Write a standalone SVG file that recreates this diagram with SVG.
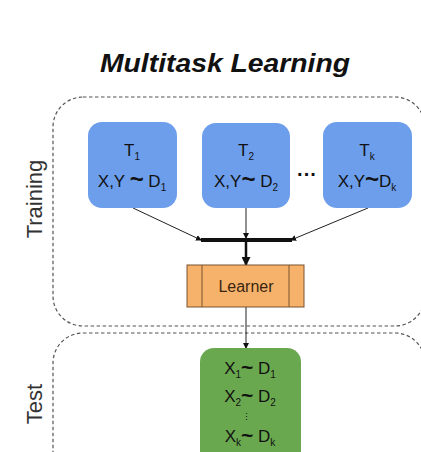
<svg xmlns="http://www.w3.org/2000/svg" width="421" height="452" viewBox="0 0 421 452">
<defs>
<style>
.t{font-family:"Liberation Sans",Arial,sans-serif;fill:#111;}
.box{fill:#6d9eeb;}
.dash{fill:none;stroke:#555;stroke-width:1.2;stroke-dasharray:3.5,2.5;}
.ln{stroke:#222;stroke-width:1;fill:none;}
.bx{font-size:17px;text-anchor:middle;}
.sb{font-size:10px;}
.tl{font-weight:bold;font-size:24px;}
.tg{font-weight:bold;font-size:21px;}
.lbl{font-family:"Liberation Sans",Arial,sans-serif;font-size:22px;fill:#333;text-anchor:middle;}
</style>
<marker id="ah" markerWidth="6" markerHeight="6" refX="5" refY="3" orient="auto" markerUnits="userSpaceOnUse">
<path d="M0,0 L6,3 L0,6 Z" fill="#111"/>
</marker>
<marker id="ahb" markerWidth="9" markerHeight="9" refX="8" refY="4.5" orient="auto" markerUnits="userSpaceOnUse">
<path d="M0,0 L9,4.5 L0,9 Z" fill="#111"/>
</marker>
</defs>
<rect width="421" height="452" fill="#fff"/>
<text class="t" x="225" y="72" font-size="26" font-weight="bold" font-style="italic" text-anchor="middle" textLength="250" lengthAdjust="spacingAndGlyphs">Multitask Learning</text>

<g id="training-region">
<rect class="dash" x="53" y="97" width="372" height="229" rx="30"/>
<text class="lbl" transform="translate(42,199) rotate(-90)">Training</text>
</g>
<g id="test-region">
<rect class="dash" x="53" y="333" width="372" height="200" rx="30"/>
<text class="lbl" transform="translate(42,404) rotate(-90)">Test</text>
</g>

<g id="connectors">
<line class="ln" x1="133" y1="208" x2="201" y2="240" marker-end="url(#ah)"/>
<line class="ln" x1="246" y1="208" x2="246" y2="238" marker-end="url(#ah)"/>
<line class="ln" x1="368" y1="208" x2="291" y2="240" marker-end="url(#ah)"/>
<line x1="201" y1="240" x2="292" y2="240" stroke="#111" stroke-width="4"/>
<line x1="246" y1="240" x2="246" y2="265" stroke="#111" stroke-width="2.5" marker-end="url(#ahb)"/>
<line class="ln" x1="246" y1="307" x2="246" y2="348" marker-end="url(#ah)"/>
</g>

<g id="t1">
<rect class="box" x="88" y="122" width="89" height="86" rx="14"/>
<text class="t bx" x="132" y="156">T<tspan class="sb" dy="4">1</tspan></text>
<text class="t bx" x="132" y="187">X,Y <tspan class="tl">~</tspan> D<tspan class="sb" dy="4">1</tspan></text>
</g>
<g id="t2">
<rect class="box" x="202" y="123" width="88" height="85" rx="14"/>
<text class="t bx" x="246" y="156">T<tspan class="sb" dy="4">2</tspan></text>
<text class="t bx" x="246" y="187">X,Y<tspan class="tl">~</tspan> D<tspan class="sb" dy="4">2</tspan></text>
</g>
<g id="ellipsis">
<text class="t" x="307" y="181" font-size="20" font-weight="bold" text-anchor="middle">···</text>
</g>
<g id="tk">
<rect class="box" x="323" y="122" width="89" height="86" rx="14"/>
<text class="t bx" x="367" y="156">T<tspan class="sb" dy="4">k</tspan></text>
<text class="t bx" x="367" y="187">X,Y<tspan class="tl">~</tspan>D<tspan class="sb" dy="4">k</tspan></text>
</g>

<g id="learner">
<rect x="187" y="265" width="117" height="42" fill="#f6b26b" stroke="#7a5230" stroke-width="1"/>
<line x1="202" y1="265" x2="202" y2="307" stroke="#7a5230" stroke-width="1"/>
<line x1="289" y1="265" x2="289" y2="307" stroke="#7a5230" stroke-width="1"/>
<text x="246" y="292" font-family="Liberation Sans, Arial, sans-serif" font-size="16" fill="#3a2510" text-anchor="middle">Learner</text>
</g>

<g id="test-data">
<rect x="200" y="348" width="101" height="120" rx="14" fill="#6aa84f"/>
<text class="t bx" x="250" y="374">X<tspan class="sb" dy="4">1</tspan><tspan class="tg" dy="-4">~</tspan> D<tspan class="sb" dy="4">1</tspan></text>
<text class="t bx" x="250" y="402">X<tspan class="sb" dy="4">2</tspan><tspan class="tg" dy="-4">~</tspan> D<tspan class="sb" dy="4">2</tspan></text>
<text class="t" x="246" y="420" font-size="9" text-anchor="middle">⋮</text>
<text class="t bx" x="250" y="442">X<tspan class="sb" dy="4">k</tspan><tspan class="tg" dy="-4">~</tspan> D<tspan class="sb" dy="4">k</tspan></text>
</g>
</svg>
